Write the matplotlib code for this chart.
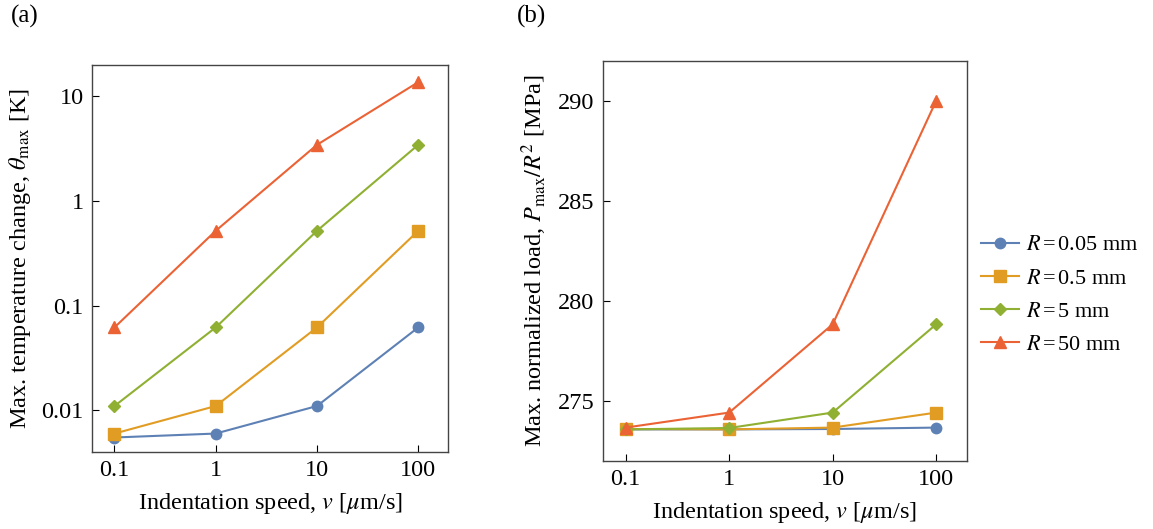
import numpy as np
import matplotlib
matplotlib.use("Agg")
import matplotlib.pyplot as plt

plt.rcParams['font.family'] = ['Liberation Serif', 'DejaVu Serif']
plt.rcParams['mathtext.fontset'] = 'stix'

# data
speed = [0.1, 1, 10, 100]
labels = ['0.05', '0.5', '5', '50']
theta = {
    '0.05': [0.0055, 0.0060, 0.011, 0.062],
    '0.5': [0.0060, 0.011, 0.062, 0.52],
    '5': [0.011, 0.062, 0.52, 3.45],
    '50': [0.062, 0.52, 3.45, 13.7],
}
load = {
    '0.05': [273.58, 273.58, 273.60, 273.67],
    '0.5': [273.60, 273.58, 273.67, 274.42],
    '5': [273.58, 273.65, 274.42, 278.83],
    '50': [273.67, 274.42, 278.83, 290.0],
}
colors = ['#5E81B5', '#E19C24', '#8FB032', '#EB6235']
markers = ['o', 's', 'D', '^']
msizes = [7.5, 8.5, 6.5, 9]

fig = plt.figure(figsize=(11.53, 5.29), dpi=100)
ax1 = fig.add_axes([0.0798, 0.1456, 0.3088, 0.7316])
ax2 = fig.add_axes([0.5227, 0.1285, 0.3157, 0.7568])

for i, r in enumerate(labels):
    ax1.plot(speed, theta[r], color=colors[i], marker=markers[i], ms=msizes[i], lw=1.5)
    ax2.plot(speed, load[r], color=colors[i], marker=markers[i], ms=msizes[i], lw=1.5,
             label=r'$R\,$=$\,$' + r + ' mm')

for ax in (ax1, ax2):
    ax.set_xscale('log')
    ax.set_xlim(0.06, 197)
    ax.set_xticks(speed)
    ax.set_xticklabels(['0.1', '1', '10', '100'])
    ax.minorticks_off()
    ax.tick_params(direction='in', length=5, width=0.8, labelsize=17.5, pad=6,
                   top=False, right=False)
    for s in ax.spines.values():
        s.set_color('#444444')
        s.set_linewidth(1.0)
    ax.set_xlabel(r'Indentation speed, $v$ [$\mu$m/s]', fontsize=17.5, labelpad=7)

ax1.set_yscale('log')
ax1.set_ylim(0.004, 20)
ax1.set_yticks([0.01, 0.1, 1, 10])
ax1.set_yticklabels(['0.01', '0.1', '1', '10'])
ax1.minorticks_off()
ax1.set_ylabel(r'Max. temperature change, $\theta_{\mathrm{max}}$ [K]', fontsize=17.5, labelpad=6)

ax2.set_ylim(272, 292)
ax2.set_yticks([275, 280, 285, 290])
ax2.set_ylabel(r'Max. normalized load, $P_{\mathrm{max}}/R^2$ [MPa]', fontsize=17.5, labelpad=6)

ax2.legend(loc='center left', bbox_to_anchor=(1.039, 0.415), frameon=False, fontsize=16,
           handlelength=1.7, handletextpad=0.33, labelspacing=0.57,
           borderpad=0, borderaxespad=0)

fig.text(0.009, 0.968, '(a)', fontsize=18, va='center')
fig.text(0.448, 0.968, '(b)', fontsize=18, va='center')

fig.savefig('out.png', dpi=100)
